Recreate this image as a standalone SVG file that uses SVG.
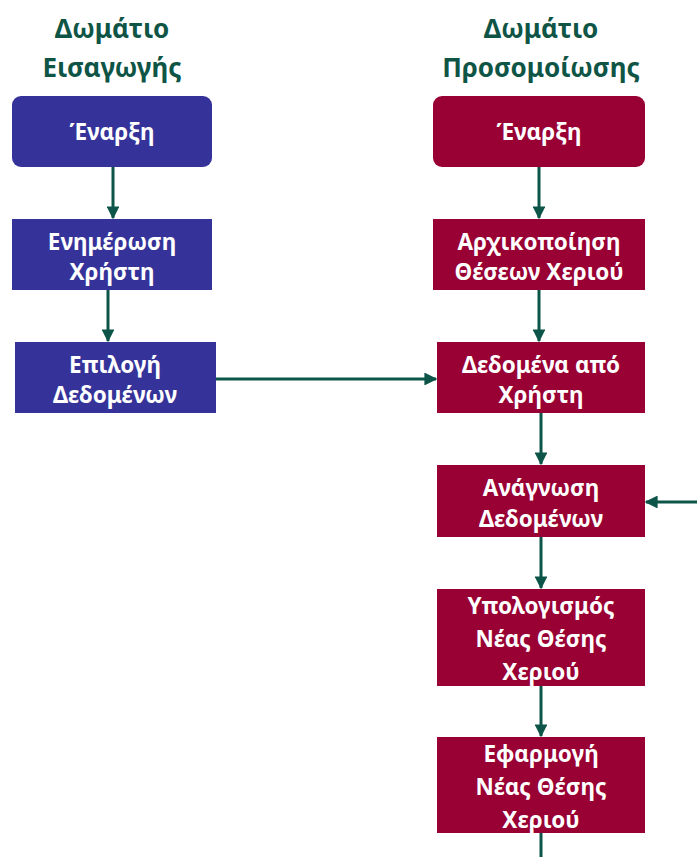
<svg xmlns="http://www.w3.org/2000/svg" width="697" height="857" viewBox="0 0 697 857">
<defs>
<style>
.title{font-family:"Noto Sans","Open Sans",sans-serif;font-weight:bold;font-size:26px;fill:#0F5546;text-anchor:middle}
.lbl{font-family:"Noto Sans","Open Sans",sans-serif;font-weight:bold;font-size:22.5px;fill:#ffffff;text-anchor:middle}
.blue{fill:#353399}
.red{fill:#990033}
.conn{stroke:#0D5549;stroke-width:3;fill:none;marker-end:url(#ah)}
</style>
<marker id="ah" viewBox="0 0 10 10" refX="9" refY="5" markerWidth="4.3" markerHeight="4.3" orient="auto" markerUnits="strokeWidth">
<path d="M0,0 L10,5 L0,10 z" fill="#0D5549"/>
</marker>
</defs>
<rect width="697" height="857" fill="#ffffff"/>
<g id="title-left">
<text class="title" x="112" y="38">Δωμάτιο</text>
<text class="title" x="112" y="77">Εισαγωγής</text>
</g>
<g id="title-right">
<text class="title" x="541" y="38">Δωμάτιο</text>
<text class="title" x="541" y="77">Προσομοίωσης</text>
</g>
<g id="connectors">
<line class="conn" x1="113" y1="167" x2="113" y2="218"/>
<line class="conn" x1="108" y1="290" x2="108" y2="341"/>
<line class="conn" x1="216" y1="379" x2="436" y2="379"/>
<line class="conn" x1="539" y1="167" x2="539" y2="218"/>
<line class="conn" x1="539" y1="290" x2="539" y2="341"/>
<line class="conn" x1="541" y1="413" x2="541" y2="464"/>
<line class="conn" x1="697" y1="502" x2="646" y2="502"/>
<line class="conn" x1="541" y1="537" x2="541" y2="588"/>
<line class="conn" x1="541" y1="686" x2="541" y2="736"/>
<line x1="541" y1="833" x2="541" y2="857" stroke="#0D5549" stroke-width="3"/>
</g>
<g id="start-left">
<rect class="blue" x="12" y="96" width="200" height="71" rx="9"/>
<text class="lbl" x="112" y="140">Έναρξη</text>
</g>
<g id="update-user">
<rect class="blue" x="12" y="219" width="200" height="71"/>
<text class="lbl" x="112" y="250">Ενημέρωση</text>
<text class="lbl" x="112" y="280">Χρήστη</text>
</g>
<g id="select-data">
<rect class="blue" x="15" y="342" width="201" height="71"/>
<text class="lbl" x="115" y="373">Επιλογή</text>
<text class="lbl" x="115" y="403">Δεδομένων</text>
</g>
<g id="start-right">
<rect class="red" x="433" y="96" width="212" height="71" rx="9"/>
<text class="lbl" x="539" y="140">Έναρξη</text>
</g>
<g id="init-hand">
<rect class="red" x="433" y="219" width="212" height="71"/>
<text class="lbl" x="539" y="250">Αρχικοποίηση</text>
<text class="lbl" x="539" y="280">Θέσεων Χεριού</text>
</g>
<g id="user-data">
<rect class="red" x="437" y="342" width="208" height="71"/>
<text class="lbl" x="541" y="373">Δεδομένα από</text>
<text class="lbl" x="541" y="403">Χρήστη</text>
</g>
<g id="read-data">
<rect class="red" x="437" y="465" width="208" height="72"/>
<text class="lbl" x="541" y="496">Ανάγνωση</text>
<text class="lbl" x="541" y="527">Δεδομένων</text>
</g>
<g id="compute-pos">
<rect class="red" x="437" y="589" width="208" height="97"/>
<text class="lbl" x="541" y="614">Υπολογισμός</text>
<text class="lbl" x="541" y="647">Νέας Θέσης</text>
<text class="lbl" x="541" y="680">Χεριού</text>
</g>
<g id="apply-pos">
<rect class="red" x="437" y="737" width="208" height="96"/>
<text class="lbl" x="541" y="762">Εφαρμογή</text>
<text class="lbl" x="541" y="795">Νέας Θέσης</text>
<text class="lbl" x="541" y="828">Χεριού</text>
</g>
</svg>
